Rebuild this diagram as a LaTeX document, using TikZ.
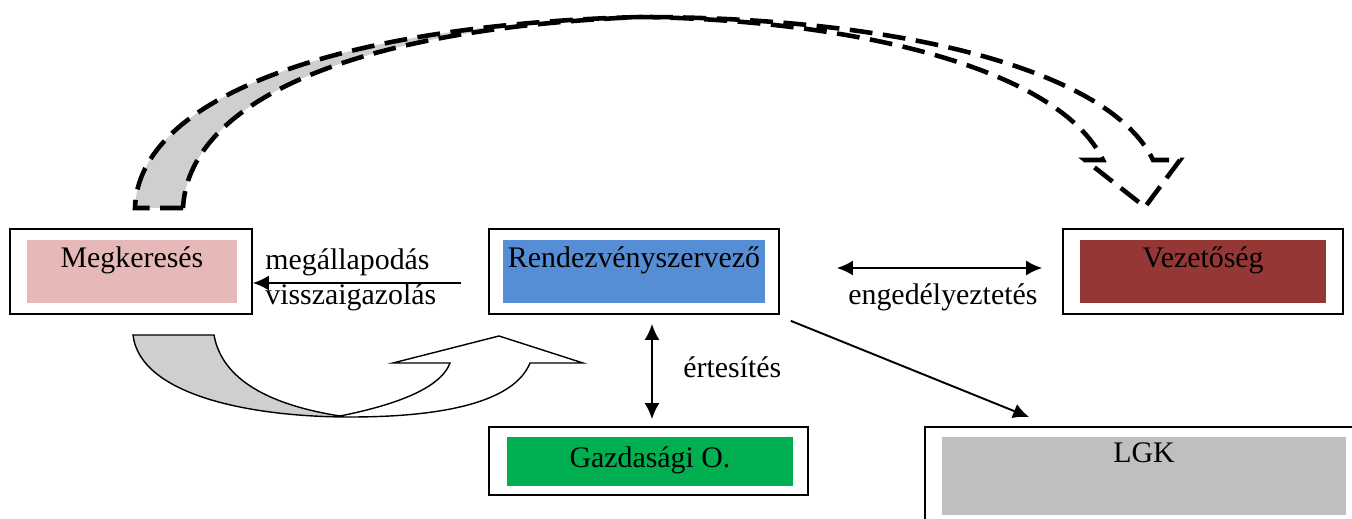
\documentclass[tikz,border=0pt]{standalone}
\usepackage{fontspec}
\setmainfont{Liberation Serif}
\usetikzlibrary{arrows.meta}
\definecolor{megcol}{HTML}{E6B9B8}
\definecolor{rencol}{HTML}{558ED5}
\definecolor{vezcol}{HTML}{953735}
\definecolor{gazcol}{HTML}{00B050}
\definecolor{lgkcol}{HTML}{BFBFBF}
\definecolor{backcol}{HTML}{CFCFCF}
\tikzset{frame/.style={rectangle,draw,line width=1pt,inner sep=0pt}}
\tikzset{fillbox/.style={rectangle,fill=#1,inner sep=0pt}}
\tikzset{lbl/.style={inner sep=0pt,anchor=base west}}
\tikzset{arr/.style={line width=1.1pt,-{Latex[length=3.2mm,width=3mm]}}}
\tikzset{dbl/.style={line width=1.1pt,{Latex[length=3.2mm,width=3mm]}-{Latex[length=3.2mm,width=3mm]}}}
\tikzset{ribbon/.style={line width=2.6pt,dash pattern=on 13pt off 6pt}}

\begin{document}
\begin{tikzpicture}[x=0.02cm,y=-0.02cm,font=\fontsize{17}{20}\selectfont]
  \useasboundingbox (0,0) rectangle (1352,519);
  % top curved arrow
  \fill[backcol] (135,208) .. controls (138,100) and (330,25) .. (640,17)
    .. controls (330,30) and (188,110) .. (183,208) -- cycle;
  \draw[ribbon] (183,208) -- (135,208) .. controls (138,100) and (330,25) .. (640,17)
    .. controls (900,17) and (1110,70) .. (1153,160) -- (1180,160) -- (1145,207)
    -- (1085,160) -- (1103,160) .. controls (1060,70) and (860,20) .. (640,17)
    .. controls (330,30) and (188,110) .. (183,208);
  % bottom curved arrow
  \fill[backcol] (133,335) -- (214,335) .. controls (222,380) and (270,405) .. (340,416)
    -- (350,417) .. controls (250,417) and (140,395) .. (133,335) -- cycle;
  \draw[line width=0.8pt] (133,335) -- (214,335) .. controls (222,380) and (270,405) .. (340,416)
    .. controls (390,406) and (440,390) .. (450,363) -- (393,363) -- (499,336) -- (583,363)
    -- (530,363) .. controls (515,400) and (450,417) .. (350,417)
    .. controls (250,417) and (140,395) .. (133,335) -- cycle;
  % boxes
  \node[frame,minimum width=4.84cm,minimum height=1.7cm] (meg) at (131,271.5) {};
  \node[frame,minimum width=5.8cm,minimum height=1.7cm] (ren) at (634,271.5) {};
  \node[frame,minimum width=5.6cm,minimum height=1.7cm] (vez) at (1203,271.5) {};
  \node[frame,minimum width=6.38cm,minimum height=1.36cm] (gaz) at (648.5,461) {};
  \node[frame,minimum width=8.8cm,minimum height=2.26cm] (lgk) at (1145,483.5) {};
  \node[fillbox=megcol,minimum width=4.2cm,text height=0.56cm,text depth=0.7cm] (megf) at (132,271.5) {Megkeresés};
  \node[fillbox=rencol,minimum width=5.24cm,text height=0.56cm,text depth=0.7cm] (renf) at (634,271.5) {Rendezvényszervező};
  \node[fillbox=vezcol,minimum width=4.92cm,text height=0.56cm,text depth=0.7cm] (vezf) at (1203,271.5) {Vezetőség};
  \node[fillbox=gazcol,minimum width=5.72cm,text height=0.62cm,text depth=0.36cm] (gazf) at (650,461.5) {Gazdasági O.};
  \node[fillbox=lgkcol,minimum width=8.08cm,text height=0.52cm,text depth=1.04cm] (lgkf) at (1144,476) {LGK};
  % labels
  \node[lbl] (mega) at (265,270) {megállapodás};
  \node[lbl] (viss) at (265,305) {visszaigazolás};
  \node[lbl] (enge) at (848,305) {engedélyeztetés};
  \node[lbl] (erte) at (683,378) {értesítés};
  % connectors
  \draw[arr] ([shift={(-27,11.5)}]ren.west) -- ([shift={(0,11.5)}]meg.east);
  \draw[dbl] ([shift={(57,-3.5)}]ren.east) -- ([shift={(-20,-3.5)}]vez.west);
  \draw[dbl] ([shift={(18,9)}]ren.south) -- ([shift={(3.5,-7)}]gaz.north);
  \draw[arr] ([shift={(11,6)}]ren.south east) -- ([shift={(105,-9)}]lgk.north west);
\end{tikzpicture}
\end{document}
